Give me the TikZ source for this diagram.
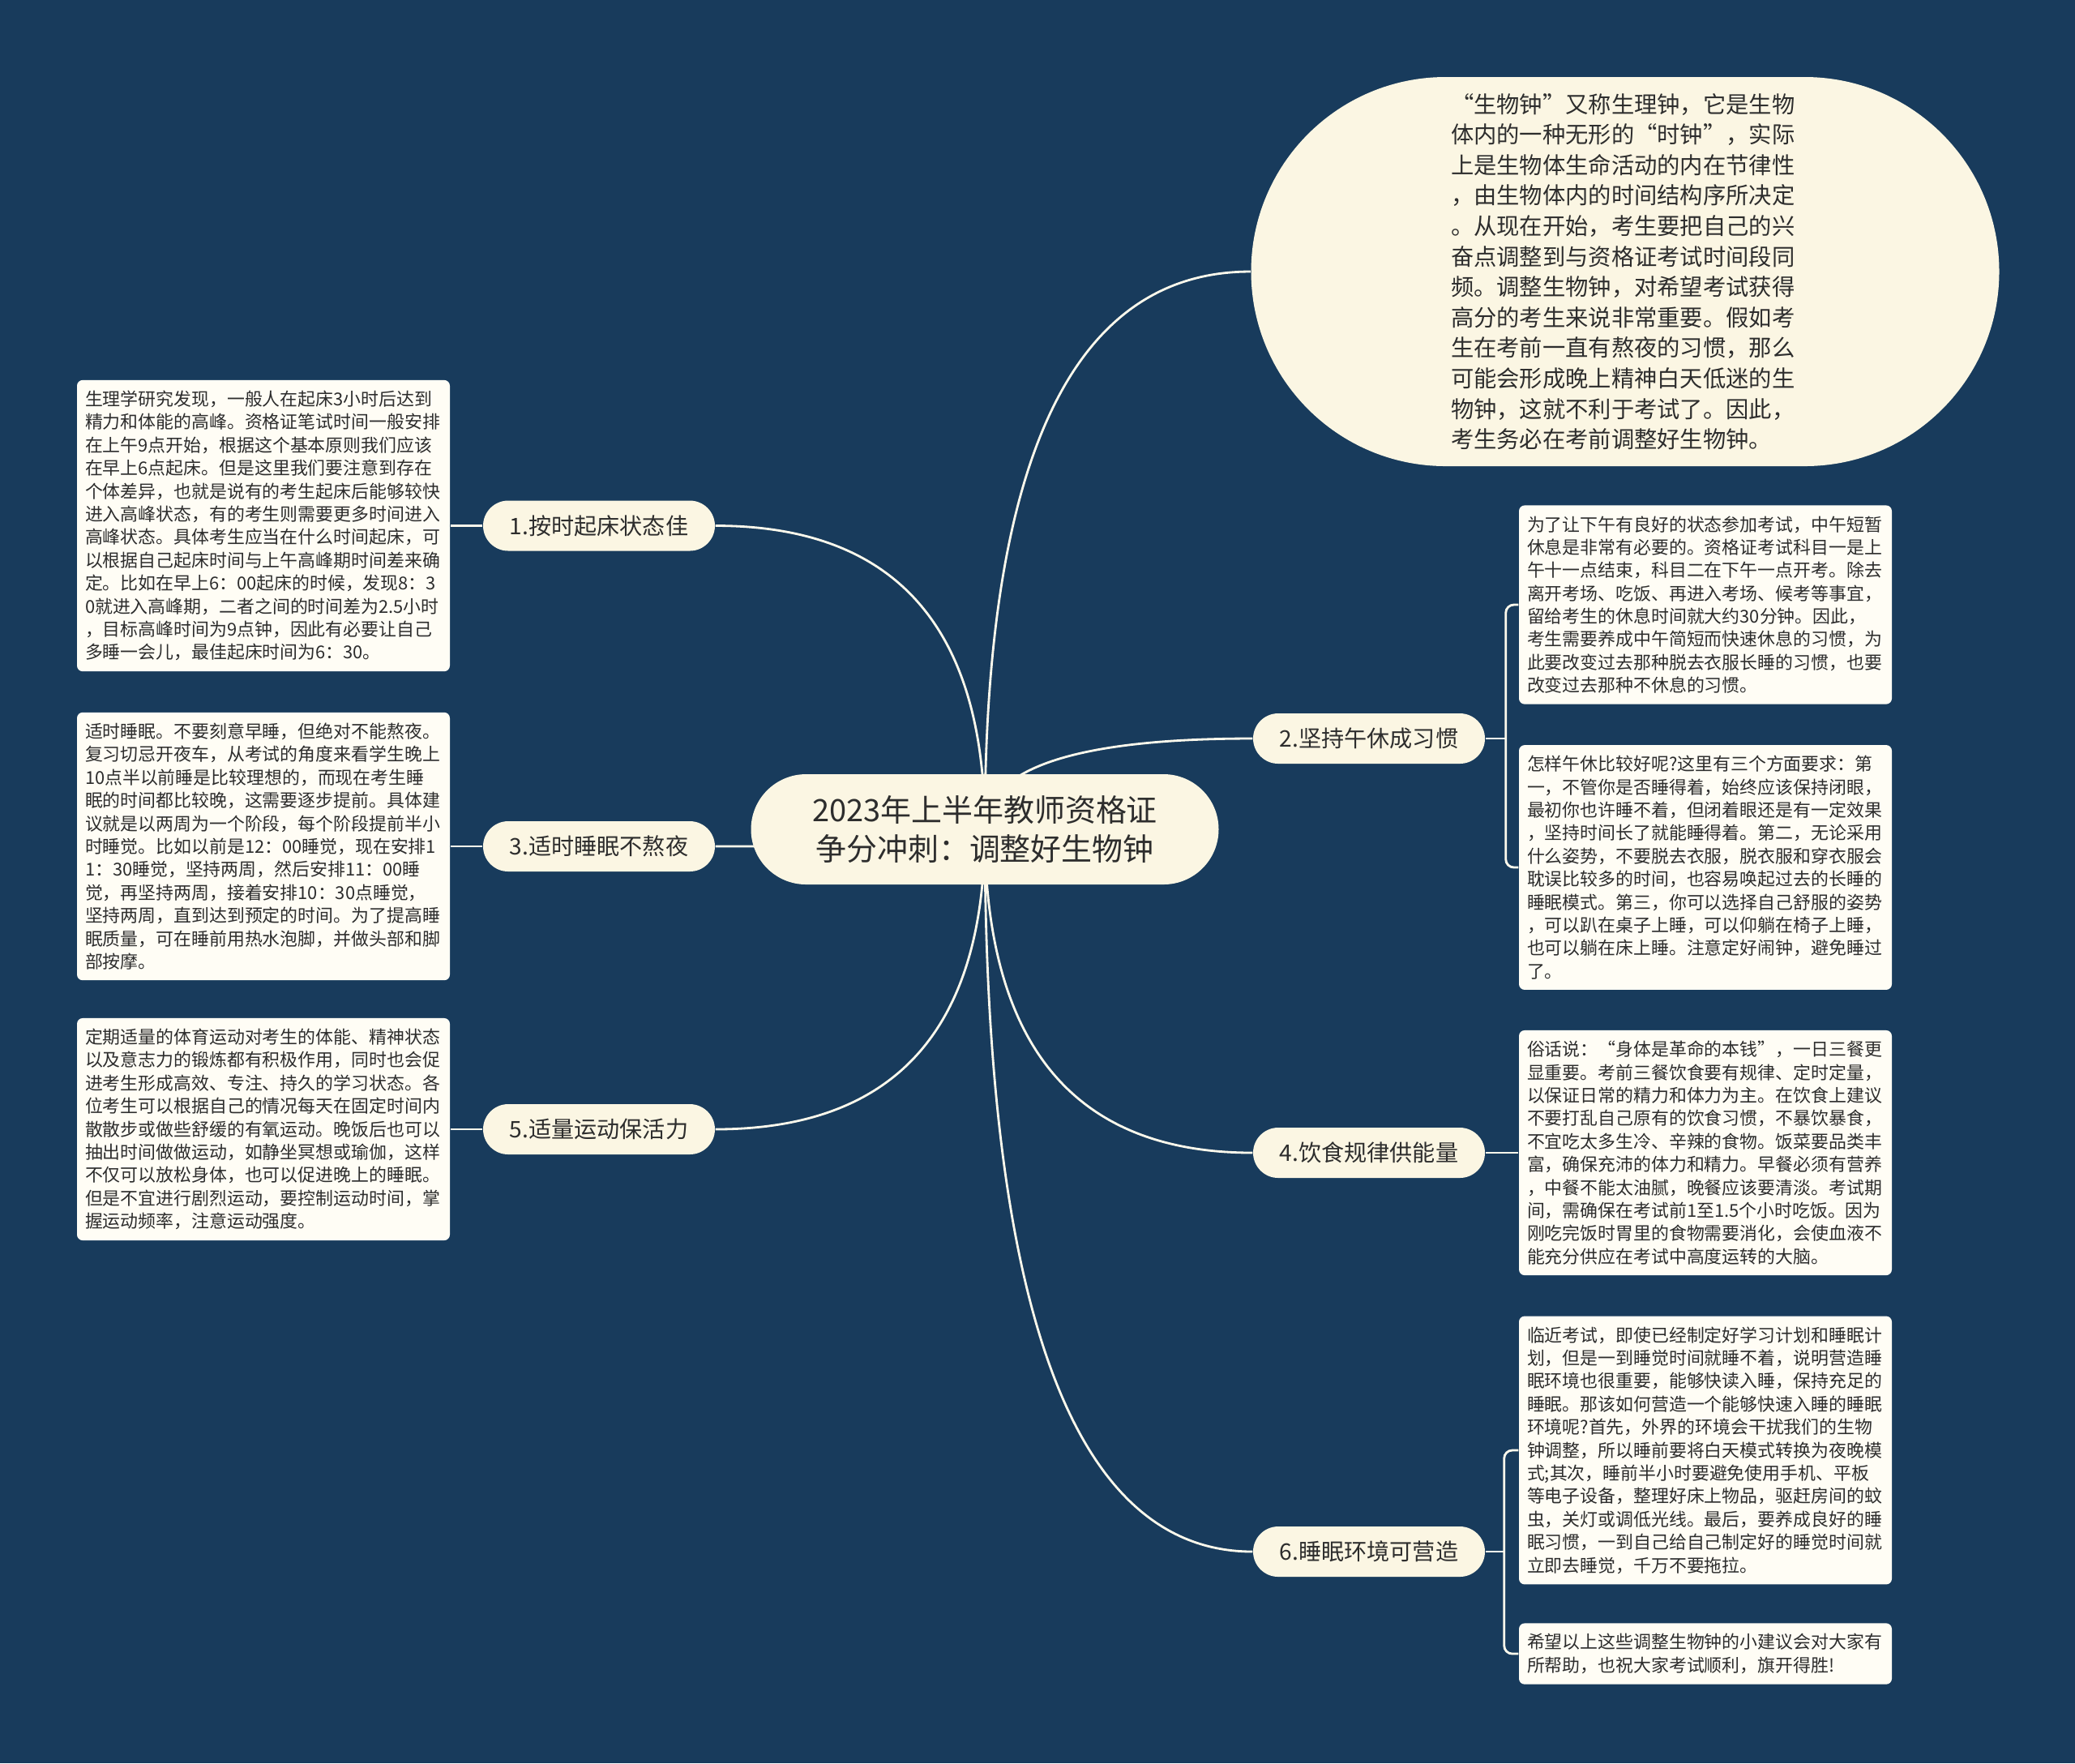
\documentclass[tikz,border=0pt]{standalone}
\usepackage{fontspec}
\setmainfont{Noto Sans CJK SC}
\usetikzlibrary{calc}
\definecolor{bgblue}{RGB}{24,59,92}
\definecolor{cream}{RGB}{251,246,227}
\definecolor{paper}{RGB}{255,253,245}
\definecolor{linecol}{RGB}{252,249,236}
\definecolor{textgrey}{RGB}{45,45,45}
\pgfdeclarelayer{back}
\pgfsetlayers{back,main}
\tikzset{
  root/.style={fill=cream, text=textgrey, align=center, minimum width=5.77cm,
    minimum height=1.36cm, rounded corners=0.68cm, font=\fontsize{10.8pt}{13.9pt}\selectfont},
  topic/.style={fill=cream, text=textgrey, minimum width=2.86cm, minimum height=0.62cm,
    rounded corners=0.31cm, font=\fontsize{8pt}{9.6pt}\selectfont},
  note/.style={fill=paper, text=textgrey, rounded corners=0.07cm, text width=4.4cm,
    inner xsep=0.1cm, inner ysep=0.13cm, align=left, font=\fontsize{6.23pt}{8.08pt}\selectfont},
  bubble/.style={fill=cream, text=textgrey, minimum width=9.23cm, minimum height=4.8cm,
    rounded corners=2.4cm, text width=4.3cm, align=left, font=\fontsize{8.05pt}{10.7pt}\selectfont},
  link/.style={draw=linecol, line width=0.8pt},
  curvy/.style={to path={.. controls ($(\tikztostart)!2/3!(\tikztostart |- \tikztotarget)$)
    and ($(\tikztotarget)!2/3!(\tikztostart |- \tikztotarget)$) .. (\tikztotarget)}}
}
\begin{document}
\begin{tikzpicture}
  \useasboundingbox (0,0) rectangle (25.6,-21.75);
  \begin{pgfonlayer}{back}
    \fill[bgblue] (0,0) rectangle (25.6,-21.75);
  \end{pgfonlayer}

  \node[root] (c) at (12.15,-10.23) {2023年上半年教师资格证\\争分冲刺：调整好生物钟};

  \node[bubble] (e) at (20.05,-3.35) {“生物钟”又称生理钟，它是生物\\体内的一种无形的“时钟”，实际\\上是生物体生命活动的内在节律性\\，由生物体内的时间结构序所决定\\。从现在开始，考生要把自己的兴\\奋点调整到与资格证考试时间段同\\频。调整生物钟，对希望考试获得\\高分的考生来说非常重要。假如考\\生在考前一直有熬夜的习惯，那么\\可能会形成晚上精神白天低迷的生\\物钟，这就不利于考试了。因此，\\考生务必在考前调整好生物钟。};

  \node[topic] (b1) at (7.39,-6.485) {1.按时起床状态佳};
  \node[topic] (b3) at (7.39,-10.44) {3.适时睡眠不熬夜};
  \node[topic] (b5) at (7.39,-13.93) {5.适量运动保活力};
  \node[topic] (b2) at (16.89,-9.11) {2.坚持午休成习惯};
  \node[topic] (b4) at (16.89,-14.22) {4.饮食规律供能量};
  \node[topic] (b6) at (16.89,-19.14) {6.睡眠环境可营造};

  \node[note] (n1) at (3.25,-6.485) {生理学研究发现，一般人在起床3小时后达到\\精力和体能的高峰。资格证笔试时间一般安排\\在上午9点开始，根据这个基本原则我们应该\\在早上6点起床。但是这里我们要注意到存在\\个体差异，也就是说有的考生起床后能够较快\\进入高峰状态，有的考生则需要更多时间进入\\高峰状态。具体考生应当在什么时间起床，可\\以根据自己起床时间与上午高峰期时间差来确\\定。比如在早上6：00起床的时候，发现8：3\\0就进入高峰期，二者之间的时间差为2.5小时\\，目标高峰时间为9点钟，因此有必要让自己\\多睡一会儿，最佳起床时间为6：30。};
  \node[note] (n3) at (3.25,-10.44) {适时睡眠。不要刻意早睡，但绝对不能熬夜。\\复习切忌开夜车，从考试的角度来看学生晚上\\10点半以前睡是比较理想的，而现在考生睡\\眠的时间都比较晚，这需要逐步提前。具体建\\议就是以两周为一个阶段，每个阶段提前半小\\时睡觉。比如以前是12：00睡觉，现在安排1\\1：30睡觉，坚持两周，然后安排11：00睡\\觉，再坚持两周，接着安排10：30点睡觉，\\坚持两周，直到达到预定的时间。为了提高睡\\眠质量，可在睡前用热水泡脚，并做头部和脚\\部按摩。};
  \node[note] (n5) at (3.25,-13.93) {定期适量的体育运动对考生的体能、精神状态\\以及意志力的锻炼都有积极作用，同时也会促\\进考生形成高效、专注、持久的学习状态。各\\位考生可以根据自己的情况每天在固定时间内\\散散步或做些舒缓的有氧运动。晚饭后也可以\\抽出时间做做运动，如静坐冥想或瑜伽，这样\\不仅可以放松身体，也可以促进晚上的睡眠。\\但是不宜进行剧烈运动，要控制运动时间，掌\\握运动频率，注意运动强度。};
  \node[note] (n2a) at (21.04,-7.46) {为了让下午有良好的状态参加考试，中午短暂\\休息是非常有必要的。资格证考试科目一是上\\午十一点结束，科目二在下午一点开考。除去\\离开考场、吃饭、再进入考场、候考等事宜，\\留给考生的休息时间就大约30分钟。因此，\\考生需要养成中午简短而快速休息的习惯，为\\此要改变过去那种脱去衣服长睡的习惯，也要\\改变过去那种不休息的习惯。};
  \node[note] (n2b) at (21.04,-10.70) {怎样午休比较好呢?这里有三个方面要求：第\\一，不管你是否睡得着，始终应该保持闭眼，\\最初你也许睡不着，但闭着眼还是有一定效果\\，坚持时间长了就能睡得着。第二，无论采用\\什么姿势，不要脱去衣服，脱衣服和穿衣服会\\耽误比较多的时间，也容易唤起过去的长睡的\\睡眠模式。第三，你可以选择自己舒服的姿势\\，可以趴在桌子上睡，可以仰躺在椅子上睡，\\也可以躺在床上睡。注意定好闹钟，避免睡过\\了。};
  \node[note] (n4) at (21.04,-14.22) {俗话说：“身体是革命的本钱”，一日三餐更\\显重要。考前三餐饮食要有规律、定时定量，\\以保证日常的精力和体力为主。在饮食上建议\\不要打乱自己原有的饮食习惯，不暴饮暴食，\\不宜吃太多生冷、辛辣的食物。饭菜要品类丰\\富，确保充沛的体力和精力。早餐必须有营养\\，中餐不能太油腻，晚餐应该要清淡。考试期\\间，需确保在考试前1至1.5个小时吃饭。因为\\刚吃完饭时胃里的食物需要消化，会使血液不\\能充分供应在考试中高度运转的大脑。};
  \node[note] (n6a) at (21.04,-17.89) {临近考试，即使已经制定好学习计划和睡眠计\\划，但是一到睡觉时间就睡不着，说明营造睡\\眠环境也很重要，能够快读入睡，保持充足的\\睡眠。那该如何营造一个能够快速入睡的睡眠\\环境呢?首先，外界的环境会干扰我们的生物\\钟调整，所以睡前要将白天模式转换为夜晚模\\式;其次，睡前半小时要避免使用手机、平板\\等电子设备，整理好床上物品，驱赶房间的蚊\\虫，关灯或调低光线。最后，要养成良好的睡\\眠习惯，一到自己给自己制定好的睡觉时间就\\立即去睡觉，千万不要拖拉。};
  \node[note] (n6b) at (21.04,-20.40) {希望以上这些调整生物钟的小建议会对大家有\\所帮助，也祝大家考试顺利，旗开得胜!};

  \begin{pgfonlayer}{back}
    \draw[link] (c.center) to[curvy] (e.west);
    \foreach \b in {b1,b3,b5}
      \draw[link] (c.center) to[curvy] (\b.east);
    \foreach \b in {b2,b4,b6}
      \draw[link] (c.center) to[curvy] (\b.west);
    \draw[link] (b1.west) -- (n1.east);
    \draw[link] (b3.west) -- (n3.east);
    \draw[link] (b5.west) -- (n5.east);
    \draw[link] (b4.east) -- (n4.west);
    \draw[link] (b2.east) -- ++(0.25,0) coordinate (k2);
    \draw[link, rounded corners=0.1cm] (n2a.west) -| (k2) |- (n2b.west);
    \draw[link] (b6.east) -- ++(0.23,0) coordinate (k6);
    \draw[link, rounded corners=0.1cm] (n6a.west) -| (k6) |- (n6b.west);
  \end{pgfonlayer}
\end{tikzpicture}
\end{document}
